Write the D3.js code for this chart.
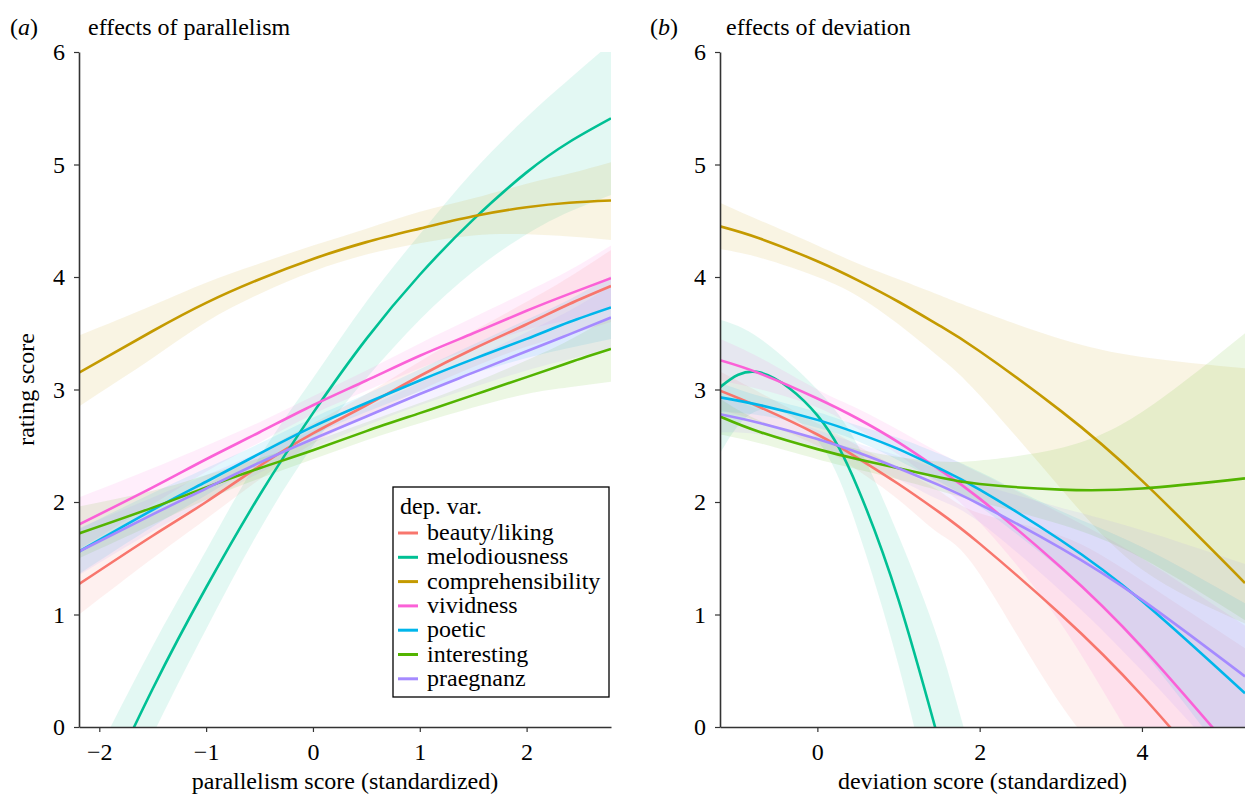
<!DOCTYPE html>
<html>
<head>
<meta charset="utf-8">
<script src="https://cdn.jsdelivr.net/npm/d3@7"></script>
<style>
    body { margin: 0; background: #fff; }
    svg { display: block; }
    text { font-family: "Liberation Serif", "Times New Roman", serif; fill: #000; }
</style>
</head>
<body>
<svg id="chart"></svg>
<script>
const svgWidth = 1245
const svgHeight = 796
const serif = '"Liberation Serif", "Times New Roman", serif'

// dependent variables and ggplot hue colours
const depVars = ['beauty/liking', 'melodiousness', 'comprehensibility', 'vividness', 'poetic', 'interesting', 'praegnanz']
const colours = ['#F8766D', '#00C094', '#C49A00', '#FB61D7', '#00B6EB', '#53B400', '#A58AFF']

// panel (a): parallelism score
const parX = [-2.19, -1.5, -1, -0.5, 0, 0.5, 1, 1.5, 2, 2.4, 2.79]
const parFit = [
    [1.27, 1.70, 2.00, 2.32, 2.61, 2.86, 3.12, 3.36, 3.58, 3.76, 3.92],
    [-1.03, 0.34, 1.24, 2.06, 2.79, 3.45, 4.02, 4.51, 4.93, 5.20, 5.41],
    [3.15, 3.52, 3.77, 3.98, 4.16, 4.31, 4.43, 4.54, 4.62, 4.66, 4.68],
    [1.80, 2.13, 2.38, 2.62, 2.86, 3.08, 3.30, 3.50, 3.70, 3.85, 3.99],
    [1.56, 1.93, 2.18, 2.43, 2.67, 2.88, 3.08, 3.27, 3.45, 3.60, 3.73],
    [1.72, 1.95, 2.13, 2.30, 2.46, 2.63, 2.79, 2.95, 3.11, 3.24, 3.36],
    [1.56, 1.89, 2.12, 2.35, 2.56, 2.76, 2.96, 3.15, 3.34, 3.49, 3.64]
]
const parLo = [
    [1.00, 1.50, 1.85, 2.20, 2.52, 2.76, 2.99, 3.20, 3.38, 3.49, 3.60],
    [-1.45, -0.07, 0.87, 1.75, 2.50, 3.10, 3.62, 4.05, 4.38, 4.58, 4.73],
    [2.85, 3.28, 3.60, 3.85, 4.05, 4.20, 4.30, 4.37, 4.38, 4.36, 4.33],
    [1.58, 1.98, 2.27, 2.53, 2.78, 2.99, 3.19, 3.37, 3.53, 3.62, 3.72],
    [1.36, 1.78, 2.06, 2.34, 2.59, 2.80, 2.98, 3.14, 3.28, 3.37, 3.45],
    [1.50, 1.80, 2.02, 2.21, 2.38, 2.55, 2.70, 2.84, 2.96, 3.02, 3.07],
    [1.35, 1.74, 2.00, 2.26, 2.48, 2.68, 2.86, 3.02, 3.17, 3.27, 3.36]
]
const parHi = [
    [1.55, 1.90, 2.15, 2.44, 2.70, 2.96, 3.25, 3.52, 3.78, 4.00, 4.24],
    [-0.55, 0.72, 1.57, 2.40, 3.10, 3.78, 4.38, 4.94, 5.42, 5.76, 6.08],
    [3.48, 3.75, 3.95, 4.12, 4.28, 4.43, 4.58, 4.70, 4.83, 4.92, 5.02],
    [2.04, 2.30, 2.50, 2.71, 2.94, 3.17, 3.41, 3.64, 3.87, 4.06, 4.28],
    [1.76, 2.08, 2.30, 2.52, 2.75, 2.96, 3.18, 3.40, 3.62, 3.80, 4.01],
    [1.96, 2.10, 2.24, 2.39, 2.54, 2.71, 2.88, 3.06, 3.26, 3.44, 3.65],
    [1.77, 2.04, 2.24, 2.44, 2.64, 2.84, 3.06, 3.28, 3.51, 3.70, 3.92]
]

// panel (b): deviation score
const devX = [-1.2, -0.7, 0, 0.5, 1, 1.5, 2, 3, 4, 5.27]
const devFit = [
    [2.99, 2.84, 2.60, 2.39, 2.16, 1.91, 1.63, 1.00, 0.28, -0.78],
    [3.02, 3.15, 2.77, 2.12, 1.13, -0.13, -1.50, -4.50, -8.00, -13.0],
    [4.45, 4.34, 4.14, 3.97, 3.78, 3.57, 3.34, 2.81, 2.19, 1.28],
    [3.26, 3.14, 2.92, 2.74, 2.53, 2.29, 2.03, 1.42, 0.71, -0.34],
    [2.93, 2.86, 2.73, 2.61, 2.47, 2.30, 2.11, 1.66, 1.12, 0.30],
    [2.76, 2.62, 2.47, 2.38, 2.30, 2.22, 2.16, 2.11, 2.12, 2.21],
    [2.78, 2.70, 2.56, 2.44, 2.30, 2.15, 1.98, 1.59, 1.13, 0.45]
]
const devLo = [
    [2.82, 2.71, 2.50, 2.28, 2.02, 1.72, 1.36, 0.20, -0.75, -2.30],
    [2.43, 2.82, 2.55, 1.75, 0.55, -0.95, -2.60, -6.00, -10.0, -16.0],
    [4.25, 4.17, 4.00, 3.83, 3.58, 3.29, 2.95, 2.12, 1.40, 0.92],
    [3.08, 3.00, 2.84, 2.65, 2.42, 2.15, 1.82, 0.92, -0.25, -1.60],
    [2.80, 2.77, 2.66, 2.54, 2.37, 2.18, 1.96, 1.40, 0.68, -0.50],
    [2.60, 2.52, 2.38, 2.29, 2.20, 2.10, 2.00, 1.80, 1.50, 0.95],
    [2.62, 2.60, 2.49, 2.36, 2.20, 2.02, 1.82, 1.21, 0.50, -0.50]
]
const devHi = [
    [3.16, 2.97, 2.70, 2.50, 2.30, 2.10, 1.90, 1.70, 1.30, 0.70],
    [3.62, 3.45, 3.00, 2.50, 1.70, 0.75, -0.50, -3.00, -6.00, -10.0],
    [4.66, 4.50, 4.28, 4.12, 3.98, 3.84, 3.70, 3.45, 3.29, 3.19],
    [3.45, 3.28, 3.00, 2.83, 2.64, 2.44, 2.26, 1.90, 1.50, 0.90],
    [3.06, 2.94, 2.80, 2.68, 2.57, 2.43, 2.27, 1.92, 1.60, 1.10],
    [2.92, 2.72, 2.56, 2.47, 2.40, 2.36, 2.37, 2.48, 2.80, 3.50],
    [2.95, 2.82, 2.64, 2.52, 2.41, 2.29, 2.16, 1.95, 1.75, 1.45]
]

const yTicks = [0, 1, 2, 3, 4, 5, 6]
const parTicks = [-2, -1, 0, 1, 2]
const devTicks = [0, 2, 4]

const svg = d3.select('#chart')
    .attr('width', svgWidth)
    .attr('height', svgHeight)

const plotTop = 52
const plotBottom = 727
const fontSize = 24

const drawPanel = (opts) => {
    const { id, left, right, xDomain, xs, fit, lo, hi, xTicks, tag, title, xLabel, tagX, titleX } = opts

    const x = d3.scaleLinear().domain(xDomain).range([left, right])
    const y = d3.scaleLinear().domain([0, 6]).range([plotBottom, plotTop])

    svg.append('clipPath')
        .attr('id', `clip-${id}`)
        .append('rect')
        .attr('x', left)
        .attr('y', plotTop)
        .attr('width', right - left)
        .attr('height', plotBottom - plotTop)

    const plot = svg.append('g').attr('clip-path', `url(#clip-${id})`)

    const rows = depVars.map((name, i) => xs.map((v, j) => ({ x: v, fit: fit[i][j], lo: lo[i][j], hi: hi[i][j] })))

    const area = d3.area()
        .x(d => x(d.x))
        .y0(d => y(d.lo))
        .y1(d => y(d.hi))
        .curve(d3.curveNatural)

    const line = d3.line()
        .x(d => x(d.x))
        .y(d => y(d.fit))
        .curve(d3.curveNatural)

    plot.selectAll('path.ribbon')
        .data(rows)
        .join('path')
        .attr('class', 'ribbon')
        .attr('d', area)
        .attr('fill', (d, i) => colours[i])
        .attr('fill-opacity', 0.11)

    plot.selectAll('path.fit')
        .data(rows)
        .join('path')
        .attr('class', 'fit')
        .attr('d', line)
        .attr('fill', 'none')
        .attr('stroke', (d, i) => colours[i])
        .attr('stroke-width', 2.6)

    // axes
    const yAxis = svg.append('g')
        .attr('transform', `translate(${left}, 0)`)
        .call(d3.axisLeft(y).tickValues(yTicks).tickSize(5).tickSizeOuter(0).tickFormat(d3.format('d')))
    const xAxis = svg.append('g')
        .attr('transform', `translate(0, ${plotBottom})`)
        .call(d3.axisBottom(x).tickValues(xTicks).tickSize(5).tickSizeOuter(0).tickFormat(d3.format('d')))

    ;[yAxis, xAxis].forEach(ax => {
        ax.attr('font-family', serif)
        ax.select('.domain').attr('stroke', '#333').attr('stroke-width', 1.6)
        ax.selectAll('.tick line').attr('stroke', '#333').attr('stroke-width', 1.2)
        ax.selectAll('.tick text')
            .style('font-family', serif)
            .style('font-size', `${fontSize}px`)
            .attr('fill', '#000')
    })
    yAxis.selectAll('.tick text').attr('x', -14)
    xAxis.selectAll('.tick text').attr('y', 16)

    svg.append('text')
        .attr('x', tagX)
        .attr('y', 35)
        .style('font-size', `${fontSize}px`)
        .html(`(<tspan font-style="italic">${tag}</tspan>)`)

    svg.append('text')
        .attr('x', titleX)
        .attr('y', 35)
        .style('font-size', `${fontSize}px`)
        .text(title)

    svg.append('text')
        .attr('x', (left + right) / 2)
        .attr('y', 789)
        .attr('text-anchor', 'middle')
        .style('font-size', `${fontSize}px`)
        .text(xLabel)
}

drawPanel({
    id: 'a', left: 79, right: 611, xDomain: [-2.19, 2.79], xs: parX,
    fit: parFit, lo: parLo, hi: parHi, xTicks: parTicks,
    tag: 'a', title: 'effects of parallelism', xLabel: 'parallelism score (standardized)',
    tagX: 10, titleX: 88
})

drawPanel({
    id: 'b', left: 720, right: 1245, xDomain: [-1.2, 5.27], xs: devX,
    fit: devFit, lo: devLo, hi: devHi, xTicks: devTicks,
    tag: 'b', title: 'effects of deviation', xLabel: 'deviation score (standardized)',
    tagX: 650, titleX: 726
})

// y axis title (left panel only)
svg.append('text')
    .attr('transform', `translate(34, ${(plotTop + plotBottom) / 2}) rotate(-90)`)
    .attr('text-anchor', 'middle')
    .style('font-size', `${fontSize}px`)
    .text('rating score')

// legend
const legend = svg.append('g').attr('transform', 'translate(393, 487)')
legend.append('rect')
    .attr('width', 216)
    .attr('height', 210)
    .attr('fill', '#fff')
    .attr('stroke', '#000')
    .attr('stroke-width', 1.3)
legend.append('text')
    .attr('x', 7)
    .attr('y', 27)
    .style('font-size', `${fontSize}px`)
    .text('dep. var.')

const entries = legend.selectAll('g.entry')
    .data(depVars)
    .join('g')
    .attr('class', 'entry')
    .attr('transform', (d, i) => `translate(0, ${46 + i * 24.3})`)
entries.append('line')
    .attr('x1', 5)
    .attr('x2', 25)
    .attr('stroke', (d, i) => colours[i])
    .attr('stroke-width', 3)
entries.append('text')
    .attr('x', 34)
    .attr('y', 7)
    .style('font-size', `${fontSize}px`)
    .text(d => d)
</script>
</body>
</html>
